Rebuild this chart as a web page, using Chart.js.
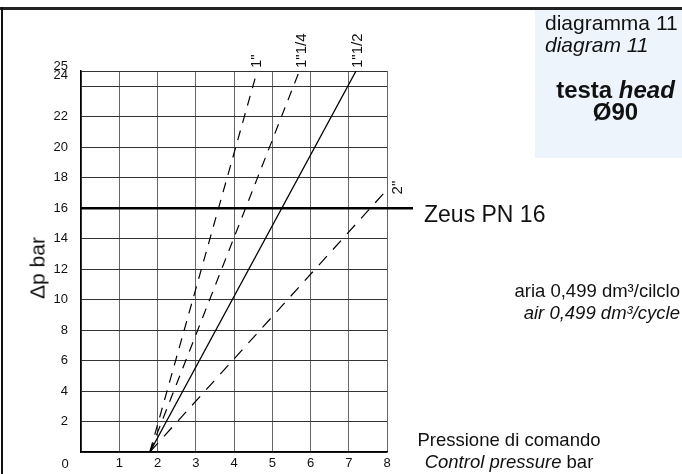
<!DOCTYPE html>
<html><head><meta charset="utf-8">
<script src="https://cdn.jsdelivr.net/npm/chart.js@4/dist/chart.umd.min.js"></script>
<style>
body{margin:0;background:#fff;}
#wrap{position:relative;width:682px;height:474px;overflow:hidden;font-family:"Liberation Sans",Arial,sans-serif;color:#111;}
#c{position:absolute;left:0;top:0;}
.t{position:absolute;white-space:nowrap;line-height:1;}
</style></head><body>
<div id="wrap">
<div style="position:absolute;left:535px;top:9px;width:147px;height:149px;background:#edf4fb"></div>
<canvas id="c" width="682" height="474"></canvas>
<div style="position:absolute;left:0;top:7px;width:682px;height:3px;background:#222"></div>
<div style="position:absolute;left:1px;top:7px;width:2px;height:467px;background:#111"></div>
<div class="t" style="left:545px;top:12px;font-size:21px">diagramma 11</div>
<div class="t" style="left:545px;top:34px;font-size:21px;font-style:italic">diagram 11</div>
<div class="t" style="left:542px;width:147px;text-align:center;top:78px;font-size:24px;font-weight:bold">testa <i>head</i></div>
<div class="t" style="left:542px;width:147px;text-align:center;top:100px;font-size:24px;font-weight:bold">Ø90</div>
<div class="t" style="left:424px;top:203px;font-size:23px">Zeus PN 16</div>
<div class="t" style="right:2px;top:282px;font-size:18.5px;text-align:right">aria 0,499 dm³/cilclo</div>
<div class="t" style="right:2px;top:304px;font-size:18.5px;text-align:right;font-style:italic">air 0,499 dm³/cycle</div>
<div class="t" style="left:409px;width:200px;text-align:center;top:431px;font-size:18.5px">Pressione di comando</div>
<div class="t" style="left:409px;width:200px;text-align:center;top:453px;font-size:18.5px"><i>Control pressure</i> bar</div>
<div class="t" style="left:37px;top:268px;font-size:21px;transform:translate(-50%,-50%) rotate(-90deg)">Δp bar</div>
</div>
<script>
// ---- data ----
const sizeLabels = ['1"', '1"1/4', '1"1/2', '2"'];
const p1in  = [1.8, 4.55];  const dp1in  = [0, 24.5];
const p114  = [1.8, 5.71];  const dp114  = [0, 25];
const p112  = [1.8, 7.19];  const dp112  = [0, 25];
const p2in  = [1.8, 7.96];  const dp2in  = [0, 17.1];
const zeusP = [0, 8.68];    const zeusDp = [16, 16];
const xTicks = [0, 1, 2, 3, 4, 5, 6, 7, 8];
const yTicks = [0, 2, 4, 6, 8, 10, 12, 14, 16, 18, 20, 22, 24, 25];

const pts = (xs, ys) => xs.map((x, i) => ({x: x, y: ys[i]}));

const datasets = [
  {label: 'Zeus PN 16', data: pts(zeusP, zeusDp), borderColor: '#000', borderWidth: 2.5, clip: false},
  {label: sizeLabels[0], data: pts(p1in, dp1in), borderColor: '#000', borderWidth: 1.2, borderDash: [10, 8]},
  {label: sizeLabels[1], data: pts(p114, dp114), borderColor: '#000', borderWidth: 1.2, borderDash: [10, 8]},
  {label: sizeLabels[2], data: pts(p112, dp112), borderColor: '#000', borderWidth: 1.3},
  {label: sizeLabels[3], data: pts(p2in, dp2in), borderColor: '#000', borderWidth: 1.2, borderDash: [12, 9]}
];

const FONT = '"Liberation Sans", Arial, sans-serif';

const labelPlugin = {
  id: 'lineLabels',
  afterDatasetsDraw(chart) {
    const ctx = chart.ctx, xs = chart.scales.x, ys = chart.scales.y;
    ctx.save();
    ctx.fillStyle = '#111';
    ctx.font = '15px ' + FONT;
    ctx.textBaseline = 'middle';
    ctx.textAlign = 'left';
    for (let i = 1; i < chart.data.datasets.length; i++) {
      const ds = chart.data.datasets[i];
      const last = ds.data[ds.data.length - 1];
      const px = xs.getPixelForValue(last.x), py = ys.getPixelForValue(last.y);
      let ax, ay;
      if (last.y >= 24) { ax = px + 2; ay = ys.top - 3; }
      else { ax = px + 12; ay = py + 3; }
      ctx.save();
      ctx.translate(ax, ay);
      ctx.rotate(-Math.PI / 2);
      ctx.fillText(ds.label, 0, 0);
      ctx.restore();
    }
    // shared origin label
    ctx.font = '13px ' + FONT;
    ctx.textAlign = 'center';
    ctx.fillText('0', xs.left - 16, ys.bottom + 12);
    ctx.restore();
  }
};

new Chart(document.getElementById('c'), {
  type: 'line',
  data: {datasets: datasets},
  options: {
    responsive: false, animation: false, events: [],
    layout: {padding: {left: 0, top: 71, right: 295, bottom: 0}},
    plugins: {legend: {display: false}, tooltip: {enabled: false}},
    elements: {point: {radius: 0}, line: {tension: 0, fill: false}},
    scales: {
      x: {
        type: 'linear', min: 0, max: 8,
        afterBuildTicks: s => { s.ticks = xTicks.map(v => ({value: v})); },
        ticks: {callback: v => v === 0 ? '' : String(v), padding: 4, font: {size: 13, family: FONT}, color: '#111', autoSkip: false, maxRotation: 0},
        grid: {color: '#666', drawTicks: false, lineWidth: 1},
        border: {color: '#000', width: 1.5},
        afterFit: s => { s.height = 22; }
      },
      y: {
        type: 'linear', min: 0, max: 25,
        afterBuildTicks: s => { s.ticks = yTicks.map(v => ({value: v})); },
        ticks: {callback: v => v === 0 ? '' : (v === 25 ? ['25', '24'] : (v === 24 ? '' : String(v))), padding: 13, font: {size: 13, lineHeight: 0.65, family: FONT}, color: '#111', autoSkip: false},
        grid: {color: '#333', drawTicks: false, lineWidth: 1},
        border: {color: '#000', width: 1.5},
        afterFit: s => { s.width = 81; }
      }
    }
  },
  plugins: [labelPlugin]
});
</script>
</body></html>
